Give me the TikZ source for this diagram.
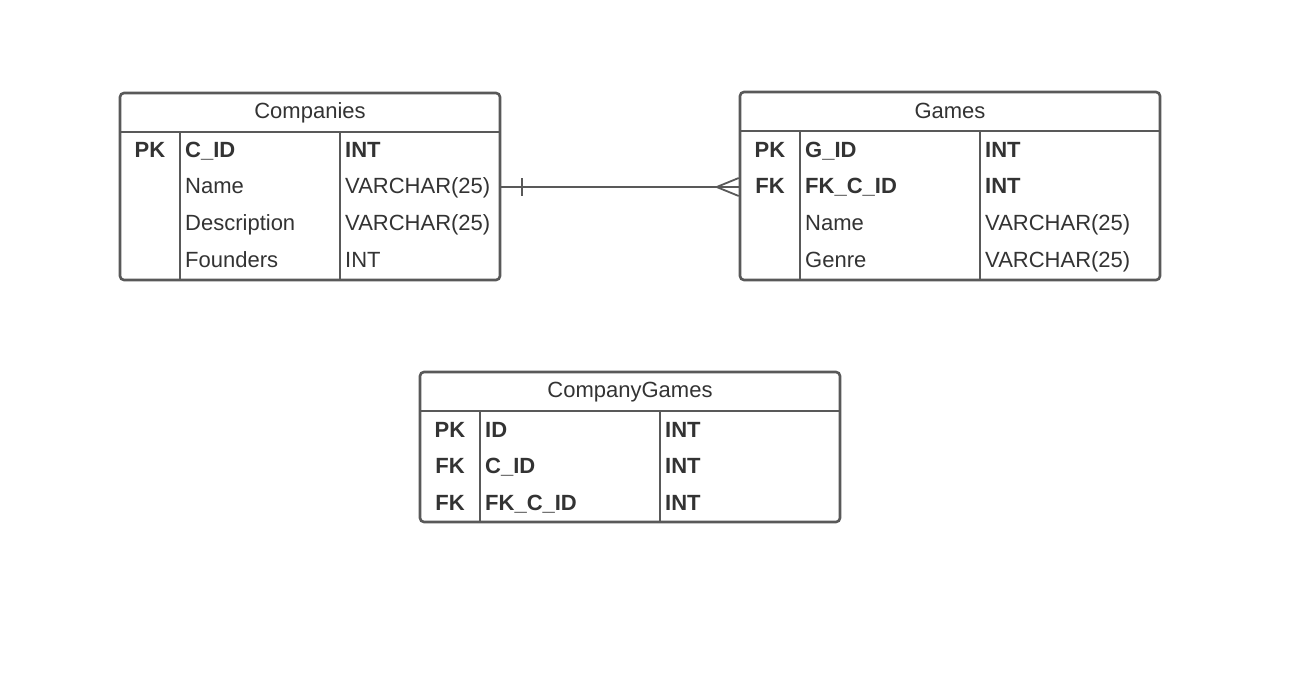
\documentclass[tikz,border=0pt]{standalone}
\usepackage{fontspec}
\setmainfont{Liberation Sans}
\usetikzlibrary{calc}
\begin{document}
\begin{tikzpicture}[x=1pt,y=-1pt,
  tablebox/.style={draw=linegray, line width=2.6pt, rounded corners=4pt, inner sep=0pt},
  sepline/.style={draw=linegray, line width=2.6pt},
  txt/.style={text=textgray, font=\fontsize{22}{26}\selectfont, inner sep=0pt, anchor=base west},
  btxt/.style={txt, font=\fontsize{22}{26}\selectfont\bfseries},
  ktxt/.style={btxt, anchor=base},
  htxt/.style={text=textgray, font=\fontsize{22}{26}\selectfont, inner sep=0pt, anchor=base},
  rel/.style={draw=linegray, line width=1.6pt}]
\definecolor{linegray}{HTML}{595959}
\definecolor{textgray}{HTML}{333333}
\useasboundingbox (0,0) rectangle (1316,680);
\fill[white] (0,0) rectangle (1316,680);

% ---------- Companies ----------
\node[tablebox, minimum width=380pt, minimum height=187pt] (comp) at (310,186.5) {};
\draw[sepline] (120,132) -- (500,132);
\draw[sepline] (180,132) -- (180,280);
\draw[sepline] (340,132) -- (340,280);
\node[htxt] (compH) at (310,118) {Companies};
\node[ktxt] (compK1) at (150,157) {PK};
\node[btxt] (compN1) at (185,157) {C\_ID};
\node[btxt] (compT1) at (345,157) {INT};
\node[txt] (compN2) at (185,193.5) {Name};
\node[txt] (compT2) at (345,193.5) {VARCHAR(25)};
\node[txt] (compN3) at (185,230) {Description};
\node[txt] (compT3) at (345,230) {VARCHAR(25)};
\node[txt] (compN4) at (185,267) {Founders};
\node[txt] (compT4) at (345,267) {INT};

% ---------- Games ----------
\node[tablebox, minimum width=420pt, minimum height=188pt] (games) at (950,186) {};
\draw[sepline] (740,131) -- (1160,131);
\draw[sepline] (800,131) -- (800,280);
\draw[sepline] (980,131) -- (980,280);
\node[htxt] (gamesH) at (950,118) {Games};
\node[ktxt] (gamesK1) at (770,157) {PK};
\node[btxt] (gamesN1) at (805,157) {G\_ID};
\node[btxt] (gamesT1) at (985,157) {INT};
\node[ktxt] (gamesK2) at (770,193.5) {FK};
\node[btxt] (gamesN2) at (805,193.5) {FK\_C\_ID};
\node[btxt] (gamesT2) at (985,193.5) {INT};
\node[txt] (gamesN3) at (805,230) {Name};
\node[txt] (gamesT3) at (985,230) {VARCHAR(25)};
\node[txt] (gamesN4) at (805,267) {Genre};
\node[txt] (gamesT4) at (985,267) {VARCHAR(25)};

% ---------- CompanyGames ----------
\node[tablebox, minimum width=420pt, minimum height=150pt] (cg) at (630,447) {};
\draw[sepline] (420,411) -- (840,411);
\draw[sepline] (480,411) -- (480,522);
\draw[sepline] (660,411) -- (660,522);
\node[htxt] (cgH) at (630,397.5) {CompanyGames};
\node[ktxt] (cgK1) at (450,437) {PK};
\node[btxt] (cgN1) at (485,437) {ID};
\node[btxt] (cgT1) at (665,437) {INT};
\node[ktxt] (cgK2) at (450,473.5) {FK};
\node[btxt] (cgN2) at (485,473.5) {C\_ID};
\node[btxt] (cgT2) at (665,473.5) {INT};
\node[ktxt] (cgK3) at (450,510) {FK};
\node[btxt] (cgN3) at (485,510) {FK\_C\_ID};
\node[btxt] (cgT3) at (665,510) {INT};

% ---------- relationship ----------
\coordinate (rA) at (comp.east |- 0,187);
\coordinate (rB) at (games.west |- 0,187);
\coordinate (rM) at ($(rA)!0.5!(rB)$);
\draw[rel, line width=2pt] (rA) -- (rM);
\draw[rel, line width=1.4pt] (rM) -- (rB);
\draw[rel, line width=2pt] ([xshift=21pt]rA) ++(0,-9) -- ++(0,18);
\draw[rel, line width=1.8pt] ([yshift=9pt]rB) -- ([xshift=-22pt]rB) -- ([yshift=-9pt]rB);
\end{tikzpicture}
\end{document}
